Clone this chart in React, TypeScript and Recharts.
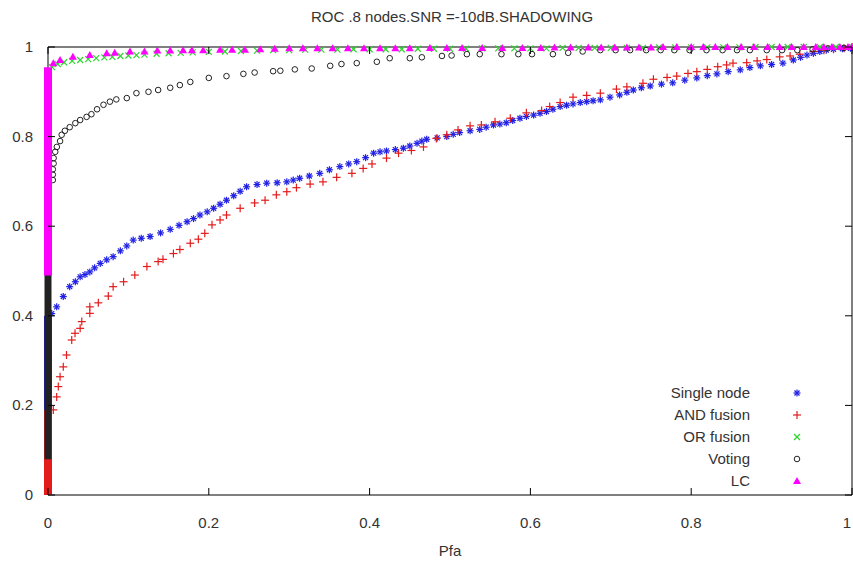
import { ScatterChart, Scatter, XAxis, YAxis, ReferenceLine, Legend } from 'recharts'

// plot frame (px) – used only for tick marks drawn by the custom tick renderers
const PLOT_LEFT = 48
const PLOT_RIGHT = 852
const PLOT_TOP = 47
const PLOT_BOTTOM = 495
const TICK_LEN = 7

const TITLE = 'ROC .8 nodes.SNR =-10dB.SHADOWING'
const X_LABEL = 'Pfa'

const X_TICKS = [0, 0.2, 0.4, 0.6, 0.8, 1]
const X_TICK_LABELS = ['0', '0.2', '0.4', '0.6', '0.8', '1']
const Y_TICKS = [0, 0.2, 0.4, 0.6, 0.8, 1]
const Y_TICK_LABELS = ['0', '0.2', '0.4', '0.6', '0.8', '1']

const SERIES_NAMES = ['Single node', 'AND fusion', 'OR fusion', 'Voting', 'LC']

// dense runs of points piled up on Pfa = 0 (bottom, top)
const SINGLE_NODE_STACK: [number, number][] = [[0, 0.15], [0, 0.4]]
const AND_STACK: [number, number][] = [[0, 0], [0, 0.19]]
const OR_STACK: [number, number][] = [[0, 0.5], [0, 0.95]]
const VOTING_STACK: [number, number][] = [[0, 0.08], [0, 0.7]]
const LC_STACK: [number, number][] = [[0, 0.49], [0, 0.955]]

// [Pfa, Pd]
const SINGLE_NODE: [number, number][] = [
  [0.0046, 0.405], [0.0108, 0.42], [0.019, 0.443], [0.027, 0.465], [0.034, 0.476], [0.04, 0.487],
  [0.046, 0.492], [0.052, 0.498], [0.058, 0.507], [0.065, 0.517], [0.073, 0.525], [0.081, 0.532],
  [0.09, 0.545], [0.098, 0.556], [0.106, 0.569], [0.116, 0.573], [0.127, 0.577], [0.14, 0.585],
  [0.152, 0.593], [0.163, 0.602], [0.173, 0.61], [0.181, 0.617], [0.189, 0.625], [0.198, 0.632],
  [0.206, 0.64], [0.214, 0.649], [0.222, 0.658], [0.231, 0.668], [0.239, 0.678], [0.247, 0.688],
  [0.26, 0.693], [0.272, 0.696], [0.285, 0.697], [0.297, 0.699], [0.305, 0.703], [0.313, 0.707],
  [0.325, 0.712], [0.338, 0.718], [0.35, 0.726], [0.363, 0.733], [0.374, 0.739], [0.384, 0.744],
  [0.395, 0.753], [0.405, 0.763], [0.413, 0.766], [0.421, 0.768], [0.432, 0.771], [0.442, 0.774],
  [0.45, 0.779], [0.459, 0.785], [0.465, 0.79], [0.471, 0.794], [0.484, 0.797], [0.496, 0.8],
  [0.504, 0.805], [0.512, 0.809], [0.525, 0.813], [0.537, 0.816], [0.545, 0.821], [0.554, 0.826],
  [0.562, 0.828], [0.57, 0.831], [0.578, 0.836], [0.587, 0.841], [0.595, 0.845], [0.604, 0.848],
  [0.612, 0.852], [0.62, 0.856], [0.628, 0.861], [0.637, 0.867], [0.645, 0.87], [0.653, 0.873],
  [0.662, 0.876], [0.67, 0.878], [0.678, 0.88], [0.687, 0.882], [0.699, 0.888], [0.711, 0.893],
  [0.72, 0.899], [0.728, 0.904], [0.738, 0.909], [0.749, 0.913], [0.763, 0.917], [0.777, 0.92],
  [0.792, 0.926], [0.807, 0.931], [0.82, 0.936], [0.832, 0.94], [0.846, 0.945], [0.861, 0.949],
  [0.873, 0.954], [0.886, 0.958], [0.9, 0.961], [0.914, 0.964], [0.927, 0.971], [0.936, 0.977],
  [0.944, 0.982], [0.952, 0.986], [0.96, 0.99], [0.968, 0.993], [0.977, 0.995], [0.988, 0.996],
  [0.998, 0.997],
]

const AND_FUSION: [number, number][] = [
  [0.0066, 0.19], [0.0108, 0.219], [0.0128, 0.242], [0.015, 0.264], [0.019, 0.286], [0.023, 0.3125],
  [0.0295, 0.346], [0.0336, 0.361], [0.04, 0.372], [0.042, 0.387], [0.052, 0.4055], [0.052, 0.42],
  [0.0626, 0.429], [0.075, 0.444], [0.081, 0.465], [0.094, 0.476], [0.108, 0.491], [0.123, 0.51],
  [0.137, 0.521], [0.143, 0.526], [0.156, 0.539], [0.164, 0.548], [0.177, 0.562], [0.187, 0.571],
  [0.195, 0.584], [0.204, 0.603], [0.214, 0.614], [0.222, 0.625], [0.239, 0.64], [0.257, 0.652],
  [0.27, 0.658], [0.284, 0.67], [0.297, 0.677], [0.309, 0.686], [0.326, 0.694], [0.342, 0.699],
  [0.359, 0.709], [0.378, 0.718], [0.392, 0.729], [0.403, 0.739], [0.421, 0.752], [0.436, 0.763],
  [0.452, 0.769], [0.467, 0.777], [0.483, 0.796], [0.496, 0.804], [0.51, 0.815], [0.525, 0.824],
  [0.539, 0.826], [0.556, 0.833], [0.575, 0.841], [0.595, 0.853], [0.614, 0.858], [0.624, 0.867],
  [0.637, 0.876], [0.653, 0.888], [0.67, 0.892], [0.687, 0.897], [0.707, 0.906], [0.72, 0.911],
  [0.74, 0.919], [0.753, 0.928], [0.77, 0.932], [0.782, 0.935], [0.796, 0.941], [0.807, 0.945],
  [0.82, 0.95], [0.833, 0.956], [0.844, 0.96], [0.852, 0.964], [0.869, 0.965], [0.882, 0.969],
  [0.894, 0.972], [0.91, 0.978], [0.923, 0.98], [0.935, 0.984], [0.952, 0.99], [0.965, 0.993],
  [0.977, 0.995], [0.99, 0.997], [1, 1],
]

const OR_FUSION: [number, number][] = [
  [0.005, 0.955], [0.012, 0.962], [0.02, 0.966], [0.03, 0.969], [0.04, 0.971], [0.05, 0.973],
  [0.06, 0.975], [0.07, 0.977], [0.08, 0.978], [0.09, 0.98], [0.1, 0.981], [0.11, 0.982],
  [0.12, 0.983], [0.135, 0.985], [0.15, 0.986], [0.165, 0.987], [0.18, 0.988], [0.2, 0.989],
  [0.22, 0.99], [0.24, 0.991], [0.26, 0.992], [0.28, 0.993], [0.3, 0.993], [0.32, 0.994],
  [0.34, 0.994], [0.36, 0.994], [0.38, 0.995], [0.4, 0.995], [0.42, 0.995], [0.44, 0.995],
  [0.46, 0.996], [0.48, 0.996], [0.5, 0.996], [0.52, 0.996], [0.54, 0.997], [0.56, 0.997],
  [0.58, 0.997], [0.6, 0.997], [0.62, 0.997], [0.64, 0.998], [0.66, 0.998], [0.68, 0.998],
  [0.7, 0.998], [0.72, 0.998], [0.74, 0.998], [0.76, 0.999], [0.78, 0.999], [0.8, 0.999],
  [0.82, 0.999], [0.84, 0.999], [0.86, 0.999], [0.88, 1], [0.9, 1], [0.92, 1], [0.94, 1],
  [0.96, 1], [0.98, 1], [1, 1],
]

const VOTING: [number, number][] = [
  [0.006, 0.703], [0.006, 0.715], [0.006, 0.727], [0.007, 0.74], [0.007, 0.752], [0.009, 0.766],
  [0.011, 0.777], [0.015, 0.79], [0.017, 0.804], [0.021, 0.813], [0.027, 0.821], [0.034, 0.83],
  [0.04, 0.837], [0.048, 0.844], [0.054, 0.85], [0.061, 0.861], [0.069, 0.871], [0.077, 0.878],
  [0.085, 0.883], [0.098, 0.886], [0.11, 0.897], [0.125, 0.9], [0.137, 0.904], [0.152, 0.909],
  [0.164, 0.915], [0.177, 0.922], [0.2, 0.931], [0.222, 0.935], [0.243, 0.94], [0.257, 0.943],
  [0.28, 0.946], [0.289, 0.947], [0.307, 0.95], [0.328, 0.952], [0.351, 0.958], [0.365, 0.962],
  [0.384, 0.964], [0.409, 0.967], [0.425, 0.975], [0.45, 0.975], [0.465, 0.977], [0.49, 0.98],
  [0.502, 0.981], [0.521, 0.984], [0.537, 0.984], [0.564, 0.984], [0.585, 0.984], [0.602, 0.984],
  [0.628, 0.984], [0.647, 0.987], [0.665, 0.99], [0.687, 0.993], [0.706, 0.993], [0.724, 0.993],
  [0.744, 0.993], [0.762, 0.993], [0.779, 0.993], [0.798, 0.993], [0.819, 0.993], [0.839, 0.993],
  [0.857, 0.993], [0.873, 0.993], [0.894, 0.993], [0.913, 0.993], [0.932, 0.993], [0.951, 0.995],
  [0.97, 0.997], [0.99, 0.998],
]

const LC: [number, number][] = [
  [0.0066, 0.964], [0.015, 0.971], [0.031, 0.978], [0.052, 0.982], [0.073, 0.986], [0.083, 0.987],
  [0.102, 0.99], [0.12, 0.99], [0.136, 0.992], [0.152, 0.992], [0.168, 0.993], [0.179, 0.993],
  [0.193, 0.993], [0.214, 0.994], [0.229, 0.994], [0.245, 0.994], [0.264, 0.995], [0.282, 0.996],
  [0.3, 0.997], [0.317, 0.997], [0.335, 0.997], [0.354, 0.997], [0.373, 0.997], [0.393, 0.997],
  [0.413, 0.997], [0.432, 0.997], [0.45, 0.997], [0.475, 0.998], [0.496, 0.998], [0.515, 0.998],
  [0.54, 0.998], [0.565, 0.998], [0.59, 0.998], [0.613, 0.998], [0.63, 0.999], [0.65, 0.999],
  [0.672, 0.999], [0.688, 0.999], [0.705, 0.999], [0.72, 0.999], [0.735, 0.999], [0.75, 0.999],
  [0.765, 1], [0.782, 1], [0.8, 1], [0.815, 1], [0.83, 1], [0.845, 1], [0.862, 1], [0.878, 1],
  [0.895, 1], [0.91, 1], [0.925, 1], [0.94, 1], [0.955, 1], [0.965, 1], [0.975, 1], [0.985, 1],
  [0.995, 1], [1, 1],
]

const COLORS = ['#1f1fe6', '#e31b1b', '#2fd42f', '#222222', '#ff00ff']
const STACK_WIDTH = [8, 8, 8, 7, 8]

const toPoints = (rows: [number, number][]) => rows.map(([x, y]) => ({ x, y }))

function Marker({ kind, cx, cy }: { kind: number; cx: number; cy: number }) {
  const c = COLORS[kind]
  if (kind === 0) {
    return (
      <g stroke={c} strokeWidth={1.2}>
        <line x1={cx - 3.5} x2={cx + 3.5} y1={cy} y2={cy} />
        <line x1={cx} x2={cx} y1={cy - 3.5} y2={cy + 3.5} />
        <line x1={cx - 2.5} x2={cx + 2.5} y1={cy - 2.5} y2={cy + 2.5} />
        <line x1={cx - 2.5} x2={cx + 2.5} y1={cy + 2.5} y2={cy - 2.5} />
      </g>
    )
  }
  if (kind === 1) {
    return (
      <g stroke={c} strokeWidth={1.2}>
        <line x1={cx - 4} x2={cx + 4} y1={cy} y2={cy} />
        <line x1={cx} x2={cx} y1={cy - 4} y2={cy + 4} />
      </g>
    )
  }
  if (kind === 2) {
    return (
      <g stroke={c} strokeWidth={1.2}>
        <line x1={cx - 3} x2={cx + 3} y1={cy - 3} y2={cy + 3} />
        <line x1={cx - 3} x2={cx + 3} y1={cy + 3} y2={cy - 3} />
      </g>
    )
  }
  if (kind === 3) {
    return <circle cx={cx} cy={cy} r={2.8} fill="none" stroke={c} strokeWidth={1} />
  }
  return <path d={`M${cx - 4},${cy + 3}L${cx + 4},${cy + 3}L${cx},${cy - 4}Z`} fill={c} />
}

const XTick = (props: any) => {
  const { x, index } = props
  const last = index === X_TICKS.length - 1
  return (
    <g>
      <line x1={x} x2={x} y1={PLOT_BOTTOM} y2={PLOT_BOTTOM - TICK_LEN} stroke="#000" />
      <line x1={x} x2={x} y1={PLOT_TOP} y2={PLOT_TOP + TICK_LEN} stroke="#000" />
      <text
        x={last ? x - 1 : x}
        y={528}
        textAnchor={last ? 'end' : 'middle'}
        fontSize={15}
        fill="#333"
        fontFamily="'Liberation Sans Narrow', 'Liberation Sans', Arial"
      >
        {X_TICK_LABELS[index]}
      </text>
    </g>
  )
}

const YTick = (props: any) => {
  const { y, index } = props
  return (
    <g>
      <line x1={PLOT_LEFT} x2={PLOT_LEFT + TICK_LEN} y1={y} y2={y} stroke="#000" />
      <line x1={PLOT_RIGHT} x2={PLOT_RIGHT - TICK_LEN} y1={y} y2={y} stroke="#000" />
      <text x={33} y={y + 5} textAnchor="end" fontSize={15} fill="#333">
        {Y_TICK_LABELS[index]}
      </text>
    </g>
  )
}

function LegendBox() {
  return (
    <div style={{ fontFamily: "'Liberation Sans', Arial", fontSize: 15, color: '#333' }}>
      {SERIES_NAMES.map((name, i) => (
        <div key={name} style={{ display: 'flex', alignItems: 'center', height: 22 }}>
          <span style={{ width: 150, textAlign: 'right', lineHeight: '22px' }}>{name}</span>
          <svg width={14} height={14} style={{ marginLeft: 40 }}>
            <Marker kind={i} cx={7} cy={7} />
          </svg>
        </div>
      ))}
    </div>
  )
}

const SERIES = [
  { stack: SINGLE_NODE_STACK, points: SINGLE_NODE },
  { stack: AND_STACK, points: AND_FUSION },
  { stack: OR_STACK, points: OR_FUSION },
  { stack: VOTING_STACK, points: VOTING },
  { stack: LC_STACK, points: LC },
]

export default function App() {
  return (
    <div style={{ position: 'absolute', left: 0, top: 0, width: 853, height: 562, background: '#fff', fontFamily: "'Liberation Sans', Arial" }}>
      <div style={{ position: 'absolute', left: 0, width: 904, top: 8, textAlign: 'center', fontSize: 15, color: '#333' }}>
        {TITLE}
      </div>
      <ScatterChart width={853} height={562} margin={{ top: PLOT_TOP, right: 853 - PLOT_RIGHT, bottom: 0, left: 0 }}>
        <XAxis
          type="number"
          dataKey="x"
          domain={[0, 1]}
          ticks={X_TICKS}
          height={562 - PLOT_BOTTOM}
          axisLine={{ stroke: '#000' }}
          tickLine={false}
          tick={<XTick />}
          interval={0}
          label={{ value: X_LABEL, position: 'insideBottom', offset: 6, fontSize: 15, fill: '#333' }}
        />
        <YAxis
          type="number"
          dataKey="y"
          domain={[0, 1]}
          ticks={Y_TICKS}
          width={PLOT_LEFT}
          axisLine={{ stroke: '#000' }}
          tickLine={false}
          tick={<YTick />}
          interval={0}
        />
        <ReferenceLine y={1} stroke="#000" />
        <ReferenceLine x={1} stroke="#000" />
        {SERIES.flatMap((s, i) => [
          <Scatter
            key={`stack-${i}`}
            data={toPoints(s.stack)}
            line={{ stroke: COLORS[i], strokeWidth: STACK_WIDTH[i] }}
            shape={() => <g />}
            isAnimationActive={false}
            legendType="none"
          />,
          <Scatter
            key={`pts-${i}`}
            name={SERIES_NAMES[i]}
            data={toPoints(s.points)}
            shape={(p: any) => <Marker kind={i} cx={p.cx} cy={p.cy} />}
            isAnimationActive={false}
          />,
        ])}
        <Legend
          layout="vertical"
          align="center"
          verticalAlign="middle"
          wrapperStyle={{ left: 600, top: 382, width: 220 }}
          content={() => <LegendBox />}
        />
      </ScatterChart>
    </div>
  )
}
